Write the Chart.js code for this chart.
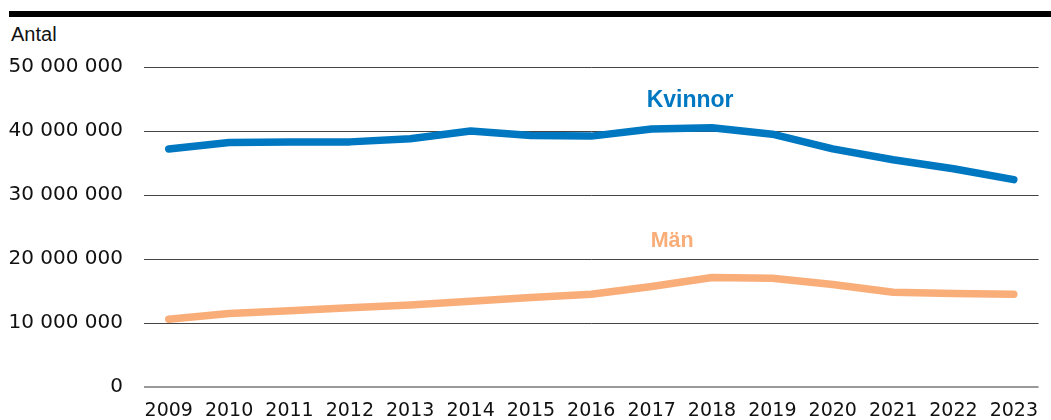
<!DOCTYPE html>
<html>
<head>
<meta charset="utf-8">
<script src="https://cdn.jsdelivr.net/npm/chart.js@4/dist/chart.umd.min.js"></script>
<style>
  html, body { margin: 0; padding: 0; background: #fff; }
  #wrap { position: relative; width: 1051px; height: 420px; overflow: hidden; }
  #bar { position: absolute; left: 9px; right: 0; top: 11px; height: 6px; background: #000; }
  #unit { position: absolute; left: 11px; top: 23px; font-family: "Liberation Sans", Arial, sans-serif; font-size: 20px; color: #111; }
  canvas { position: absolute; left: 0; top: 0; }
</style>
</head>
<body>
<div id="wrap">
  <div id="bar"></div>
  <div id="unit">Antal</div>
  <canvas id="c" width="1051" height="420"></canvas>
</div>
<script>
const years = [2009, 2010, 2011, 2012, 2013, 2014, 2015, 2016, 2017, 2018, 2019, 2020, 2021, 2022, 2023];
const kvinnor = [37200000, 38200000, 38300000, 38300000, 38800000, 40000000, 39300000, 39200000, 40300000, 40500000, 39500000, 37200000, 35500000, 34100000, 32400000];
const man = [10600000, 11500000, 11900000, 12400000, 12800000, 13400000, 14000000, 14500000, 15700000, 17100000, 17000000, 16000000, 14800000, 14600000, 14500000];
const yTicks = [0, 10000000, 20000000, 30000000, 40000000, 50000000];
const seriesNames = ["Kvinnor", "Män"];
const colors = ["#0078c1", "#f9ad78"];

const TICKFONT = '"DejaVu Sans", sans-serif';
const FONT = '"Liberation Sans", Arial, sans-serif';

const labelPlugin = {
  id: 'seriesLabels',
  afterDatasetsDraw(chart) {
    const ctx = chart.ctx;
    const xs = chart.scales.x, ys = chart.scales.y;
    ctx.save();
    ctx.textBaseline = 'alphabetic';
    ctx.textAlign = 'left';
    ctx.font = 'bold 23px ' + FONT;
    ctx.fillStyle = colors[0];
    ctx.fillText(seriesNames[0], xs.getPixelForValue(2017) - 5, ys.getPixelForValue(43800000));
    ctx.font = 'bold 21.5px ' + FONT;
    ctx.fillStyle = colors[1];
    ctx.fillText(seriesNames[1], xs.getPixelForValue(2017) - 1, ys.getPixelForValue(21800000));
    ctx.restore();
  }
};

const toPts = arr => arr.map((v, i) => ({ x: years[i], y: v }));

new Chart(document.getElementById('c'), {
  type: 'line',
  data: {
    datasets: [
      { label: seriesNames[0], data: toPts(kvinnor), borderColor: colors[0], backgroundColor: colors[0], borderWidth: 7.5, pointRadius: 0, tension: 0, borderCapStyle: 'round', borderJoinStyle: 'round' },
      { label: seriesNames[1], data: toPts(man), borderColor: colors[1], backgroundColor: colors[1], borderWidth: 7.5, pointRadius: 0, tension: 0, borderCapStyle: 'round', borderJoinStyle: 'round' }
    ]
  },
  options: {
    responsive: false,
    animation: false,
    devicePixelRatio: 1,
    layout: { padding: { left: 0, right: 0, top: 67, bottom: 0 } },
    plugins: { legend: { display: false }, tooltip: { enabled: false } },
    scales: {
      x: {
        type: 'linear',
        min: 2008.59, max: 2023.41,
        afterBuildTicks: s => { s.ticks = years.map(v => ({ value: v })); },
        afterFit: s => { s.height = 32; },
        grid: { display: false, drawTicks: false },
        border: { display: false },
        ticks: { color: '#111', font: { family: TICKFONT, size: 19 }, padding: 13, maxRotation: 0, autoSkip: false, callback: v => String(v) }
      },
      y: {
        min: 0, max: 50000000,
        afterBuildTicks: s => { s.ticks = yTicks.map(v => ({ value: v })); },
        afterFit: s => { s.width = 144; },
        grid: {
          drawTicks: false,
          color: ctx => ctx.tick && ctx.tick.value === 0 ? '#999' : '#444',
          lineWidth: ctx => ctx.tick && ctx.tick.value === 0 ? 2 : 1
        },
        border: { display: false },
        ticks: {
          color: '#111',
          font: { family: TICKFONT, size: 20 },
          padding: 21,
          callback: v => String(v).replace(/\B(?=(\d{3})+(?!\d))/g, ' ')
        }
      }
    }
  },
  plugins: [labelPlugin]
});
</script>
</body>
</html>
